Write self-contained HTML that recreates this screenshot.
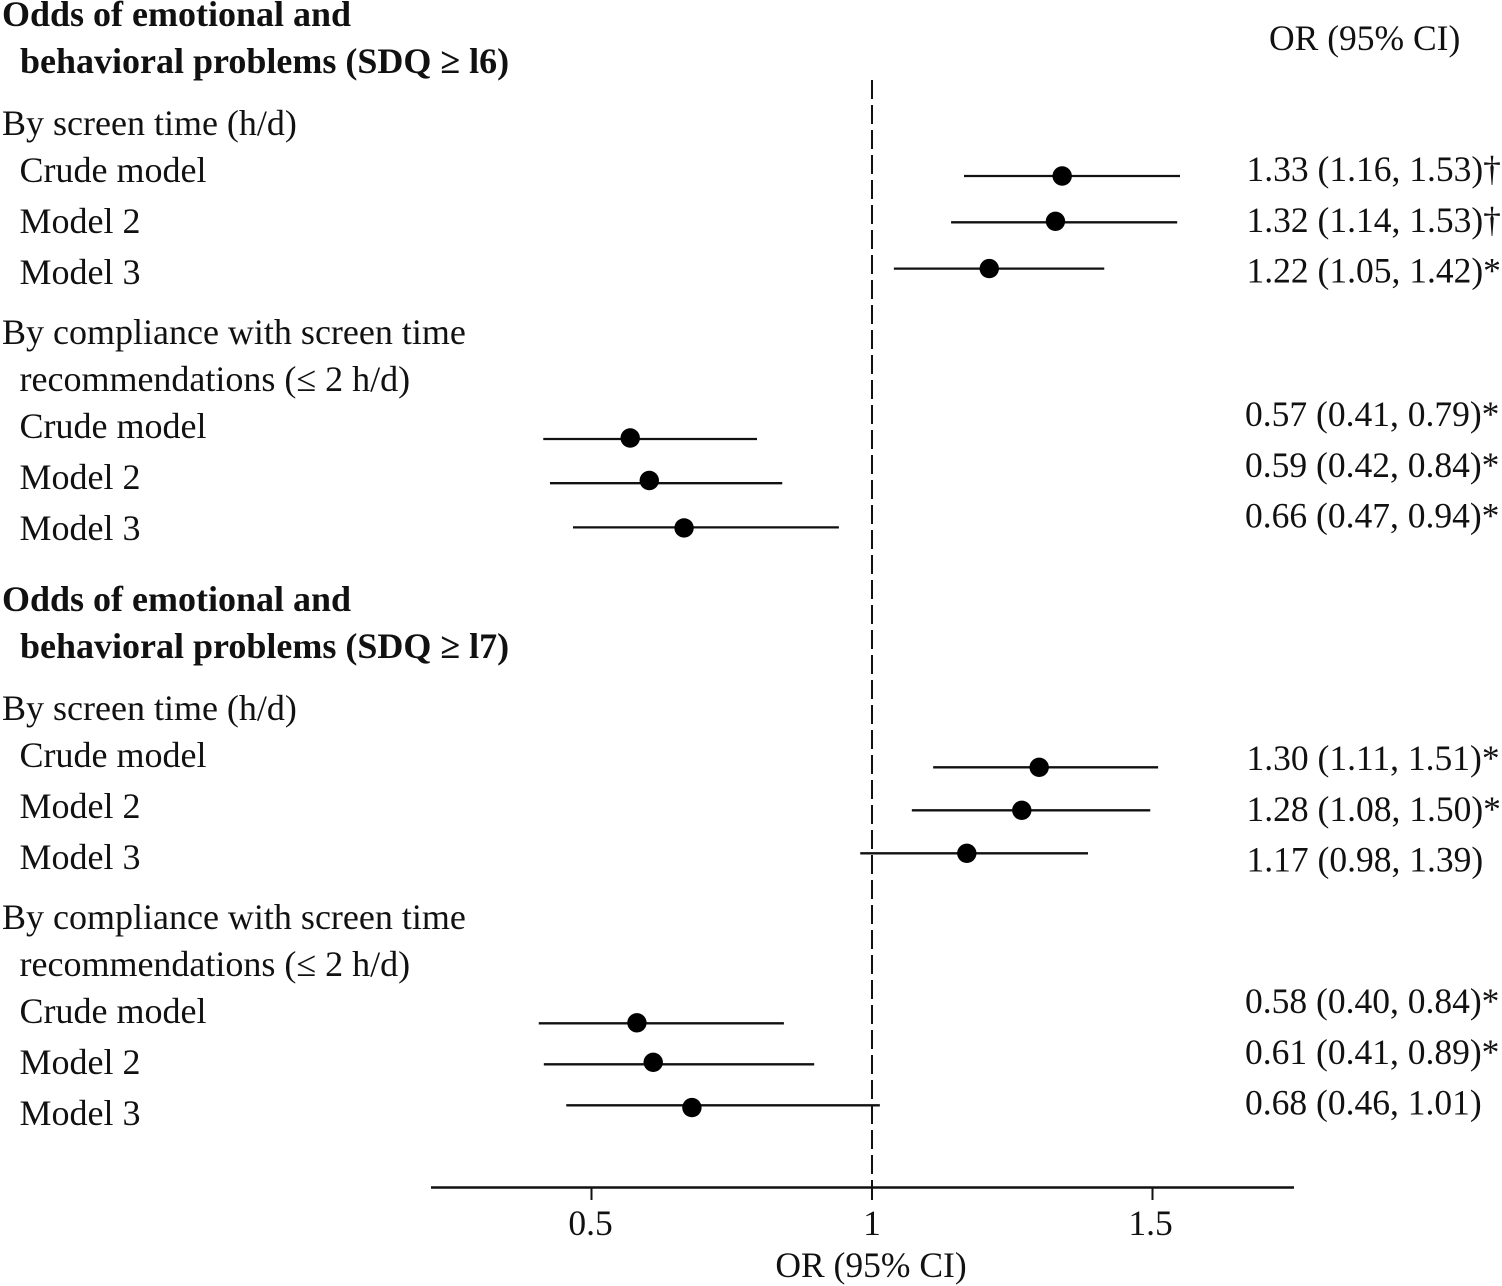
<!DOCTYPE html>
<html lang="en">
<head>
<meta charset="utf-8">
<title>Forest plot of odds of emotional and behavioral problems</title>
<style>
html,body{margin:0;padding:0;background:#fff;}
svg{display:block;}
text{font-family:"Liberation Serif","Times New Roman",serif;font-size:35.5px;fill:#111;}
.l{font-size:36px;}
.b{font-weight:bold;}
</style>
</head>
<body>
<svg id="chart" xmlns="http://www.w3.org/2000/svg" width="1502" height="1286" viewBox="0 0 1502 1286">
  <g>
    <text class="l b" x="2" y="26">Odds of emotional and</text>
    <text class="l b" x="20" y="73">behavioral problems (SDQ ≥ l6)</text>
    <text class="l" x="2" y="135">By screen time (h/d)</text>
    <text class="l" x="19.5" y="182">Crude model</text>
    <text class="l" x="19.5" y="233">Model 2</text>
    <text class="l" x="19.5" y="284">Model 3</text>
    <text class="l" x="2" y="344">By compliance with screen time</text>
    <text class="l" x="19.5" y="391">recommendations (≤ 2 h/d)</text>
    <text class="l" x="19.5" y="438">Crude model</text>
    <text class="l" x="19.5" y="489">Model 2</text>
    <text class="l" x="19.5" y="540">Model 3</text>
    <text class="l b" x="2" y="611">Odds of emotional and</text>
    <text class="l b" x="20" y="658">behavioral problems (SDQ ≥ l7)</text>
    <text class="l" x="2" y="720">By screen time (h/d)</text>
    <text class="l" x="19.5" y="767">Crude model</text>
    <text class="l" x="19.5" y="818">Model 2</text>
    <text class="l" x="19.5" y="869">Model 3</text>
    <text class="l" x="2" y="929">By compliance with screen time</text>
    <text class="l" x="19.5" y="976">recommendations (≤ 2 h/d)</text>
    <text class="l" x="19.5" y="1023">Crude model</text>
    <text class="l" x="19.5" y="1074">Model 2</text>
    <text class="l" x="19.5" y="1125">Model 3</text>
  </g>
  <text x="1269" y="50">OR (95% CI)</text>
  <text x="871" y="1277" text-anchor="middle">OR (95% CI)</text>
  <g id="marks"></g>
</svg>
<script>
// Plotted odds ratios (top to bottom)
const pointEstimates = [1.339, 1.327, 1.209, 0.569, 0.603, 0.665, 1.298, 1.267, 1.169, 0.581, 0.610, 0.679];
const ciLower = [1.164, 1.141, 1.039, 0.414, 0.426, 0.467, 1.109, 1.071, 0.979, 0.406, 0.415, 0.455];
const ciUpper = [1.549, 1.544, 1.414, 0.795, 0.840, 0.941, 1.510, 1.496, 1.385, 0.843, 0.897, 1.014];
const printedValues = [
  "1.33 (1.16, 1.53)†", "1.32 (1.14, 1.53)†", "1.22 (1.05, 1.42)*",
  "0.57 (0.41, 0.79)*", "0.59 (0.42, 0.84)*", "0.66 (0.47, 0.94)*",
  "1.30 (1.11, 1.51)*", "1.28 (1.08, 1.50)*", "1.17 (0.98, 1.39)",
  "0.58 (0.40, 0.84)*", "0.61 (0.41, 0.89)*", "0.68 (0.46, 1.01)"
];
const tickValues = [0.5, 1, 1.5];
const tickLabels = ["0.5", "1", "1.5"];
const referenceValue = 1;

const SVG_NS = "http://www.w3.org/2000/svg";
const marks = document.getElementById("marks");

function xScale(v) {
  return 872 + (v - 1) * 561;
}
// Row layout of the categorical y axis: first row of each block and row spacing
function yScale(i) {
  const block = Math.floor(i / 3);
  const pos = i % 3;
  const start = [176, 439, 767.3, 1023.3][block];
  const step = [46.3, 44.2, 43, 41][block];
  return start + pos * step;
}
// The source figure draws some markers slightly off their interval line
function dotNudge(i) {
  const block = Math.floor(i / 3);
  const pos = i % 3;
  if (pos === 1) return block === 0 ? -1 : block === 1 ? -2.7 : block === 3 ? -2 : 0;
  if (pos === 2) return block === 1 ? 0.5 : block === 3 ? 2.3 : 0;
  return block === 1 ? -1 : block === 3 ? -0.5 : 0;
}
function labelBaseline(i) {
  const block = Math.floor(i / 3);
  const pos = i % 3;
  return [181, 426, 770, 1013][block] + pos * 50.8;
}
function make(tag, attrs) {
  const el = document.createElementNS(SVG_NS, tag);
  for (const k in attrs) el.setAttribute(k, attrs[k]);
  marks.appendChild(el);
  return el;
}

// Reference line
const refLine = make("line", {
  x1: xScale(referenceValue), x2: xScale(referenceValue), y1: 80, y2: 1200,
  stroke: "#111", "stroke-width": 2, "stroke-dasharray": "19 6"
});



// Axis
const axisLine = make("line", {
  x1: 431, x2: 1294, y1: 1187.5, y2: 1187.5, stroke: "#111", "stroke-width": 2.4
});



tickValues.forEach(function (v, i) {
  const tick = make("line", {
    x1: xScale(v), x2: xScale(v), y1: 1187.5, y2: 1200, stroke: "#111", "stroke-width": 2
  });
  
  
  const label = make("text", { x: xScale(v) - (i === 0 ? 1 : i === 2 ? 2 : 0), y: 1235, "text-anchor": "middle" });
  label.textContent = tickLabels[i];
  
  
});

// Confidence intervals, points and printed values
pointEstimates.forEach(function (v, i) {
  const y = yScale(i);
  const ci = make("line", {
    x1: xScale(ciLower[i]), x2: xScale(ciUpper[i]), y1: y, y2: y, stroke: "#111", "stroke-width": 2.3
  });
  
  
  const dot = make("circle", { cx: xScale(v), cy: y + dotNudge(i), r: 9.7, fill: "#000" });
  
  
  const txt = make("text", { x: i % 6 < 3 ? 1246.5 : 1245, y: labelBaseline(i) });
  txt.textContent = printedValues[i];
  
  
});
</script>
</body>
</html>
